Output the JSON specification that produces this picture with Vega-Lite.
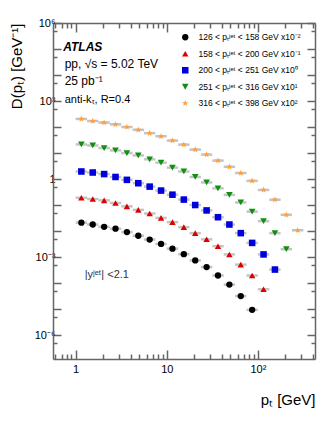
{
  "$schema": "https://vega.github.io/schema/vega-lite/v6.json",
  "width": 262,
  "height": 336,
  "autosize": {"type": "none"},
  "padding": {"left": 53, "top": 23, "right": 17, "bottom": 71},
  "background": "white",
  "config": {
    "font": "Liberation Sans",
    "view": {"stroke": null},
    "axis": {"grid": false, "domainColor": "#666666", "domainWidth": 1.5, "tickColor": "#666666", "tickWidth": 1.5, "labelColor": "#000000", "titleColor": "#000000", "labelFont": "Liberation Sans", "titleFont": "Liberation Sans", "titleFontWeight": "normal"}
  },
  "datasets": {
    "main": [
      {"s": "126", "pt": 1.155, "lo": 1, "hi": 1.334, "D": 0.021},
      {"s": "126", "pt": 1.54, "lo": 1.334, "hi": 1.778, "D": 0.0178},
      {"s": "126", "pt": 2.054, "lo": 1.778, "hi": 2.371, "D": 0.0145},
      {"s": "126", "pt": 2.738, "lo": 2.371, "hi": 3.162, "D": 0.0123},
      {"s": "126", "pt": 3.652, "lo": 3.162, "hi": 4.217, "D": 0.0091},
      {"s": "126", "pt": 4.87, "lo": 4.217, "hi": 5.623, "D": 0.0066},
      {"s": "126", "pt": 6.494, "lo": 5.623, "hi": 7.499, "D": 0.0047},
      {"s": "126", "pt": 8.66, "lo": 7.499, "hi": 10, "D": 0.0032},
      {"s": "126", "pt": 11.55, "lo": 10, "hi": 13.34, "D": 0.0021},
      {"s": "126", "pt": 15.4, "lo": 13.34, "hi": 17.78, "D": 0.00129},
      {"s": "126", "pt": 20.54, "lo": 17.78, "hi": 23.71, "D": 0.00074},
      {"s": "126", "pt": 27.38, "lo": 23.71, "hi": 31.62, "D": 0.00041},
      {"s": "126", "pt": 36.52, "lo": 31.62, "hi": 42.17, "D": 0.000195},
      {"s": "126", "pt": 48.7, "lo": 42.17, "hi": 56.23, "D": 0.000087},
      {"s": "126", "pt": 64.94, "lo": 56.23, "hi": 74.99, "D": 0.0000316},
      {"s": "126", "pt": 86.6, "lo": 74.99, "hi": 100, "D": 0.0000093},

      {"s": "158", "pt": 1.155, "lo": 1, "hi": 1.334, "D": 0.19},
      {"s": "158", "pt": 1.54, "lo": 1.334, "hi": 1.778, "D": 0.17},
      {"s": "158", "pt": 2.054, "lo": 1.778, "hi": 2.371, "D": 0.151},
      {"s": "158", "pt": 2.738, "lo": 2.371, "hi": 3.162, "D": 0.12},
      {"s": "158", "pt": 3.652, "lo": 3.162, "hi": 4.217, "D": 0.089},
      {"s": "158", "pt": 4.87, "lo": 4.217, "hi": 5.623, "D": 0.065},
      {"s": "158", "pt": 6.494, "lo": 5.623, "hi": 7.499, "D": 0.047},
      {"s": "158", "pt": 8.66, "lo": 7.499, "hi": 10, "D": 0.032},
      {"s": "158", "pt": 11.55, "lo": 10, "hi": 13.34, "D": 0.022},
      {"s": "158", "pt": 15.4, "lo": 13.34, "hi": 17.78, "D": 0.0141},
      {"s": "158", "pt": 20.54, "lo": 17.78, "hi": 23.71, "D": 0.0083},
      {"s": "158", "pt": 27.38, "lo": 23.71, "hi": 31.62, "D": 0.0048},
      {"s": "158", "pt": 36.52, "lo": 31.62, "hi": 42.17, "D": 0.0026},
      {"s": "158", "pt": 48.7, "lo": 42.17, "hi": 56.23, "D": 0.00126},
      {"s": "158", "pt": 64.94, "lo": 56.23, "hi": 74.99, "D": 0.00051},
      {"s": "158", "pt": 86.6, "lo": 74.99, "hi": 100, "D": 0.000195},
      {"s": "158", "pt": 115.5, "lo": 100, "hi": 133.4, "D": 0.0000575},

      {"s": "200", "pt": 1.155, "lo": 1, "hi": 1.334, "D": 1.95},
      {"s": "200", "pt": 1.54, "lo": 1.334, "hi": 1.778, "D": 1.78},
      {"s": "200", "pt": 2.054, "lo": 1.778, "hi": 2.371, "D": 1.55},
      {"s": "200", "pt": 2.738, "lo": 2.371, "hi": 3.162, "D": 1.2},
      {"s": "200", "pt": 3.652, "lo": 3.162, "hi": 4.217, "D": 0.93},
      {"s": "200", "pt": 4.87, "lo": 4.217, "hi": 5.623, "D": 0.69},
      {"s": "200", "pt": 6.494, "lo": 5.623, "hi": 7.499, "D": 0.51},
      {"s": "200", "pt": 8.66, "lo": 7.499, "hi": 10, "D": 0.36},
      {"s": "200", "pt": 11.55, "lo": 10, "hi": 13.34, "D": 0.25},
      {"s": "200", "pt": 15.4, "lo": 13.34, "hi": 17.78, "D": 0.162},
      {"s": "200", "pt": 20.54, "lo": 17.78, "hi": 23.71, "D": 0.1},
      {"s": "200", "pt": 27.38, "lo": 23.71, "hi": 31.62, "D": 0.062},
      {"s": "200", "pt": 36.52, "lo": 31.62, "hi": 42.17, "D": 0.034},
      {"s": "200", "pt": 48.7, "lo": 42.17, "hi": 56.23, "D": 0.0178},
      {"s": "200", "pt": 64.94, "lo": 56.23, "hi": 74.99, "D": 0.0083},
      {"s": "200", "pt": 86.6, "lo": 74.99, "hi": 100, "D": 0.0035},
      {"s": "200", "pt": 115.5, "lo": 100, "hi": 133.4, "D": 0.00126},
      {"s": "200", "pt": 154.0, "lo": 133.4, "hi": 177.8, "D": 0.00033},

      {"s": "251", "pt": 1.155, "lo": 1, "hi": 1.334, "D": 21.4},
      {"s": "251", "pt": 1.54, "lo": 1.334, "hi": 1.778, "D": 19.5},
      {"s": "251", "pt": 2.054, "lo": 1.778, "hi": 2.371, "D": 15.5},
      {"s": "251", "pt": 2.738, "lo": 2.371, "hi": 3.162, "D": 12.6},
      {"s": "251", "pt": 3.652, "lo": 3.162, "hi": 4.217, "D": 10},
      {"s": "251", "pt": 4.87, "lo": 4.217, "hi": 5.623, "D": 8.1},
      {"s": "251", "pt": 6.494, "lo": 5.623, "hi": 7.499, "D": 5.75},
      {"s": "251", "pt": 8.66, "lo": 7.499, "hi": 10, "D": 4.27},
      {"s": "251", "pt": 11.55, "lo": 10, "hi": 13.34, "D": 2.75},
      {"s": "251", "pt": 15.4, "lo": 13.34, "hi": 17.78, "D": 1.95},
      {"s": "251", "pt": 20.54, "lo": 17.78, "hi": 23.71, "D": 1.2},
      {"s": "251", "pt": 27.38, "lo": 23.71, "hi": 31.62, "D": 0.74},
      {"s": "251", "pt": 36.52, "lo": 31.62, "hi": 42.17, "D": 0.44},
      {"s": "251", "pt": 48.7, "lo": 42.17, "hi": 56.23, "D": 0.245},
      {"s": "251", "pt": 64.94, "lo": 56.23, "hi": 74.99, "D": 0.126},
      {"s": "251", "pt": 86.6, "lo": 74.99, "hi": 100, "D": 0.056},
      {"s": "251", "pt": 115.5, "lo": 100, "hi": 133.4, "D": 0.024},
      {"s": "251", "pt": 154.0, "lo": 133.4, "hi": 177.8, "D": 0.0083},
      {"s": "251", "pt": 205.4, "lo": 177.8, "hi": 237.1, "D": 0.002},

      {"s": "316", "pt": 1.155, "lo": 1, "hi": 1.334, "D": 204},
      {"s": "316", "pt": 1.54, "lo": 1.334, "hi": 1.778, "D": 170},
      {"s": "316", "pt": 2.054, "lo": 1.778, "hi": 2.371, "D": 148},
      {"s": "316", "pt": 2.738, "lo": 2.371, "hi": 3.162, "D": 126},
      {"s": "316", "pt": 3.652, "lo": 3.162, "hi": 4.217, "D": 100},
      {"s": "316", "pt": 4.87, "lo": 4.217, "hi": 5.623, "D": 78},
      {"s": "316", "pt": 6.494, "lo": 5.623, "hi": 7.499, "D": 58},
      {"s": "316", "pt": 8.66, "lo": 7.499, "hi": 10, "D": 44},
      {"s": "316", "pt": 11.55, "lo": 10, "hi": 13.34, "D": 30},
      {"s": "316", "pt": 15.4, "lo": 13.34, "hi": 17.78, "D": 21},
      {"s": "316", "pt": 20.54, "lo": 17.78, "hi": 23.71, "D": 13.5},
      {"s": "316", "pt": 27.38, "lo": 23.71, "hi": 31.62, "D": 8.7},
      {"s": "316", "pt": 36.52, "lo": 31.62, "hi": 42.17, "D": 5.1},
      {"s": "316", "pt": 48.7, "lo": 42.17, "hi": 56.23, "D": 2.95},
      {"s": "316", "pt": 64.94, "lo": 56.23, "hi": 74.99, "D": 1.7},
      {"s": "316", "pt": 86.6, "lo": 74.99, "hi": 100, "D": 0.85},
      {"s": "316", "pt": 115.5, "lo": 100, "hi": 133.4, "D": 0.38},
      {"s": "316", "pt": 154.0, "lo": 133.4, "hi": 177.8, "D": 0.16},
      {"s": "316", "pt": 205.4, "lo": 177.8, "hi": 237.1, "D": 0.042},
      {"s": "316", "pt": 273.8, "lo": 237.1, "hi": 316.2, "D": 0.0107}
    ]
  },
  "data": {"name": "main"},
  "resolve": {"axis": {"x": "independent", "y": "independent"}},
  "layer": [
    {
      "mark": {"type": "rule", "stroke": "#c4c4c4", "strokeWidth": 2.5},
      "encoding": {
        "x": {
          "field": "lo", "type": "quantitative",
          "scale": {"type": "log", "domain": [0.564, 424], "nice": false},
          "axis": {
            "orient": "bottom",
            "values": [0.6, 0.7, 0.8, 0.9, 1, 2, 3, 4, 5, 6, 7, 8, 9, 10, 20, 30, 40, 50, 60, 70, 80, 90, 100, 200, 300, 400],
            "labelExpr": "datum.value == 1 ? '1' : datum.value == 10 ? '10' : datum.value == 100 ? '10²' : ''",
            "tickSize": {"condition": {"test": "datum.value == 1 || datum.value == 10 || datum.value == 100", "value": -9}, "value": -5},
            "labelPadding": 13,
            "labelFontSize": 11,
            "labelOverlap": false,
            "labelFlush": false,
            "title": "pₜ [GeV]",
            "titleAnchor": "end",
            "titleFontSize": 15,
            "titlePadding": 14
          }
        },
        "x2": {"field": "hi"},
        "y": {
          "field": "D", "type": "quantitative",
          "scale": {"type": "log", "domain": [1.2e-7, 1000000], "nice": false},
          "axis": {
            "orient": "left",
            "values": [5e-7, 1e-6, 5e-6, 1e-5, 5e-5, 1e-4, 5e-4, 1e-3, 5e-3, 0.01, 0.05, 0.1, 0.5, 1, 5, 10, 50, 100, 500, 1000, 5000, 10000, 50000, 100000, 500000, 1000000],
            "labelExpr": "datum.value == 1000000 ? '10⁶' : datum.value == 1000 ? '10³' : datum.value == 1 ? '1' : datum.value == 0.001 ? '10⁻³' : datum.value == 0.000001 ? '10⁻⁶' : ''",
            "tickSize": {"condition": {"test": "abs(log(datum.value) / LN10 - round(log(datum.value) / LN10)) < 0.01", "value": -8}, "value": -4},
            "labelPadding": 6,
            "labelFontSize": 11,
            "labelOverlap": false,
            "labelFlush": false,
            "title": "D(pₜ) [GeV⁻¹]",
            "titleAnchor": "end",
            "titleFontSize": 15,
            "titlePadding": 10
          }
        }
      }
    },
    {
      "mark": {"type": "point", "filled": true, "opacity": 1, "strokeWidth": 0},
      "encoding": {
        "x": {
          "field": "pt", "type": "quantitative",
          "scale": {"type": "log", "domain": [0.564, 424], "nice": false},
          "axis": {
            "orient": "top",
            "values": [0.6, 0.7, 0.8, 0.9, 1, 2, 3, 4, 5, 6, 7, 8, 9, 10, 20, 30, 40, 50, 60, 70, 80, 90, 100, 200, 300, 400],
            "labels": false,
            "title": null,
            "tickSize": {"condition": {"test": "datum.value == 1 || datum.value == 10 || datum.value == 100", "value": -9}, "value": -5}
          }
        },
        "y": {
          "field": "D", "type": "quantitative",
          "scale": {"type": "log", "domain": [1.2e-7, 1000000], "nice": false},
          "axis": {
            "orient": "right",
            "values": [5e-7, 1e-6, 5e-6, 1e-5, 5e-5, 1e-4, 5e-4, 1e-3, 5e-3, 0.01, 0.05, 0.1, 0.5, 1, 5, 10, 50, 100, 500, 1000, 5000, 10000, 50000, 100000, 500000, 1000000],
            "labels": false,
            "title": null,
            "tickSize": {"condition": {"test": "abs(log(datum.value) / LN10 - round(log(datum.value) / LN10)) < 0.01", "value": -8}, "value": -4}
          }
        },
        "shape": {
          "field": "s", "type": "nominal",
          "scale": {"domain": ["126", "158", "200", "251", "316"], "range": ["circle", "triangle-up", "square", "triangle-down", "M0,-1L0.235,-0.324L0.951,-0.309L0.38,0.124L0.588,0.809L0,0.4L-0.588,0.809L-0.38,0.124L-0.951,-0.309L-0.235,-0.324Z"]},
          "legend": {
            "orient": "none", "legendX": 128, "legendY": 10, "title": null, "padding": 0,
            "labelFontSize": 8.5, "labelFont": "Liberation Sans", "labelColor": "#000000",
            "symbolSize": 42, "rowPadding": 7.5, "labelOffset": 9, "symbolStrokeWidth": 0,
            "labelExpr": "datum.label == '126' ? '126 <  pₜʲᵉᵗ < 158 GeV  x10⁻²' : datum.label == '158' ? '158 <  pₜʲᵉᵗ < 200 GeV  x10⁻¹' : datum.label == '200' ? '200 <  pₜʲᵉᵗ < 251 GeV  x10⁰' : datum.label == '251' ? '251 <  pₜʲᵉᵗ < 316 GeV  x10¹' : '316 <  pₜʲᵉᵗ < 398 GeV  x10²'"
          }
        },
        "color": {
          "field": "s", "type": "nominal",
          "scale": {"domain": ["126", "158", "200", "251", "316"], "range": ["#000000", "#dd0000", "#0000dd", "#109010", "#ffa040"]},
          "legend": {
            "orient": "none", "legendX": 128, "legendY": 10, "title": null, "padding": 0,
            "labelFontSize": 8.5, "labelFont": "Liberation Sans", "labelColor": "#000000",
            "symbolSize": 42, "rowPadding": 7.5, "labelOffset": 9, "symbolStrokeWidth": 0,
            "labelExpr": "datum.label == '126' ? '126 <  pₜʲᵉᵗ < 158 GeV  x10⁻²' : datum.label == '158' ? '158 <  pₜʲᵉᵗ < 200 GeV  x10⁻¹' : datum.label == '200' ? '200 <  pₜʲᵉᵗ < 251 GeV  x10⁰' : datum.label == '251' ? '251 <  pₜʲᵉᵗ < 316 GeV  x10¹' : '316 <  pₜʲᵉᵗ < 398 GeV  x10²'"
          }
        },
        "size": {
          "field": "s", "type": "ordinal",
          "scale": {"domain": ["126", "158", "200", "251", "316"], "range": [40, 46, 34, 46, 75]},
          "legend": null
        }
      }
    },
    {
      "data": {"values": [{}]},
      "mark": {"type": "text", "text": "ATLAS", "fontSize": 12, "fontWeight": "bold", "fontStyle": "italic", "align": "left", "baseline": "middle", "color": "#000000"},
      "encoding": {"x": {"datum": 0.73, "type": "quantitative", "axis": null}, "y": {"datum": 120000, "type": "quantitative", "axis": null}}
    },
    {
      "data": {"values": [{}]},
      "mark": {"type": "text", "text": "pp, √s = 5.02 TeV", "fontSize": 12, "align": "left", "baseline": "middle", "color": "#000000"},
      "encoding": {"x": {"datum": 0.757, "type": "quantitative", "axis": null}, "y": {"datum": 27500, "type": "quantitative", "axis": null}}
    },
    {
      "data": {"values": [{}]},
      "mark": {"type": "text", "text": "25 pb⁻¹", "fontSize": 12, "align": "left", "baseline": "middle", "color": "#000000"},
      "encoding": {"x": {"datum": 0.757, "type": "quantitative", "axis": null}, "y": {"datum": 5750, "type": "quantitative", "axis": null}}
    },
    {
      "data": {"values": [{}]},
      "mark": {"type": "text", "text": "anti-kₜ, R=0.4", "fontSize": 11, "align": "left", "baseline": "middle", "color": "#000000"},
      "encoding": {"x": {"datum": 0.757, "type": "quantitative", "axis": null}, "y": {"datum": 1140, "type": "quantitative", "axis": null}}
    },
    {
      "data": {"values": [{}]},
      "mark": {"type": "text", "text": "|yʲᵉᵗ| <2.1", "fontSize": 11, "align": "left", "baseline": "middle", "color": "#333333"},
      "encoding": {"x": {"datum": 1.256, "type": "quantitative", "axis": null}, "y": {"datum": 0.000203, "type": "quantitative", "axis": null}}
    }
  ]
}
